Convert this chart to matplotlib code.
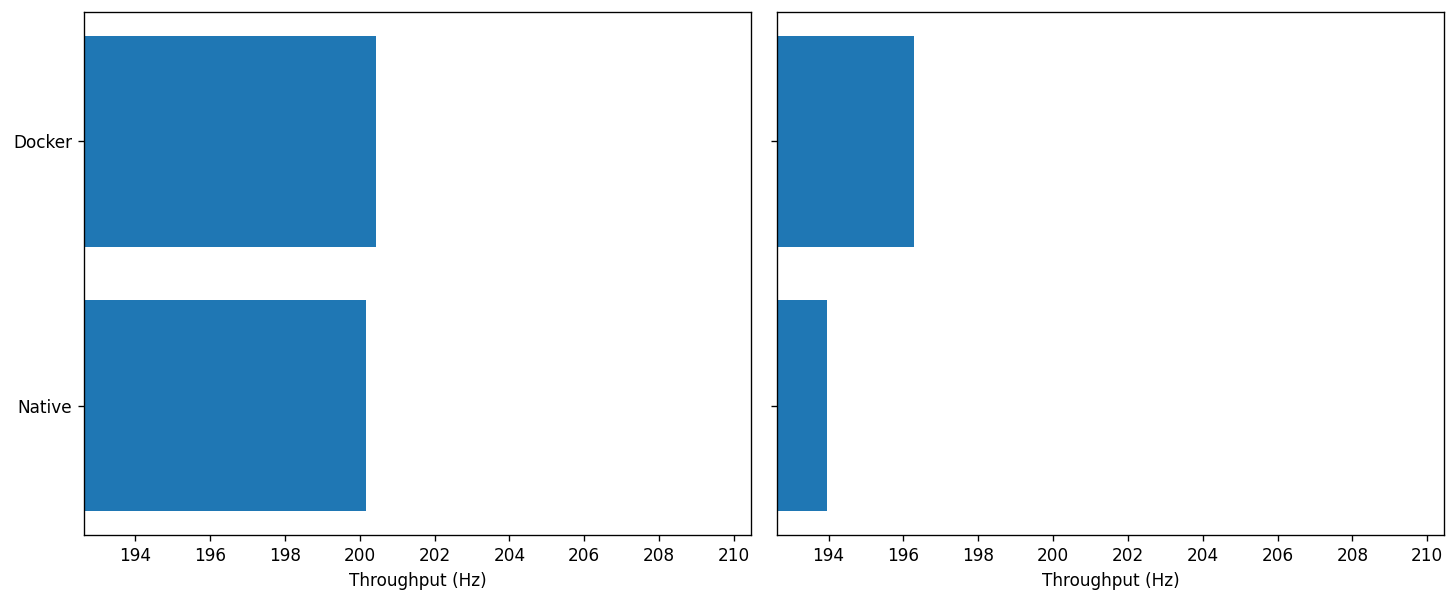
import matplotlib
matplotlib.use("Agg")
import matplotlib.pyplot as plt

categories = ["Native", "Docker"]
left_values = [200.17, 200.43]
right_values = [193.95, 196.27]
xlabel = "Throughput (Hz)"
xticks = [194, 196, 198, 200, 202, 204, 206, 208, 210]

DPI = 1456 / 12
fig, (ax1, ax2) = plt.subplots(1, 2, figsize=(12, 599 / DPI), dpi=DPI, sharey=True)
fig.subplots_adjust(left=84/1456, right=1444/1456, top=1-12/599, bottom=1-535/599, wspace=0.04)

for ax, vals in ((ax1, left_values), (ax2, right_values)):
    ax.barh(categories, vals, color="#1f77b4")
    ax.set_xlim(192.63, 210.45)
    ax.set_xticks(xticks)
    ax.set_xlabel(xlabel)

fig.savefig("out.png", dpi=DPI)
